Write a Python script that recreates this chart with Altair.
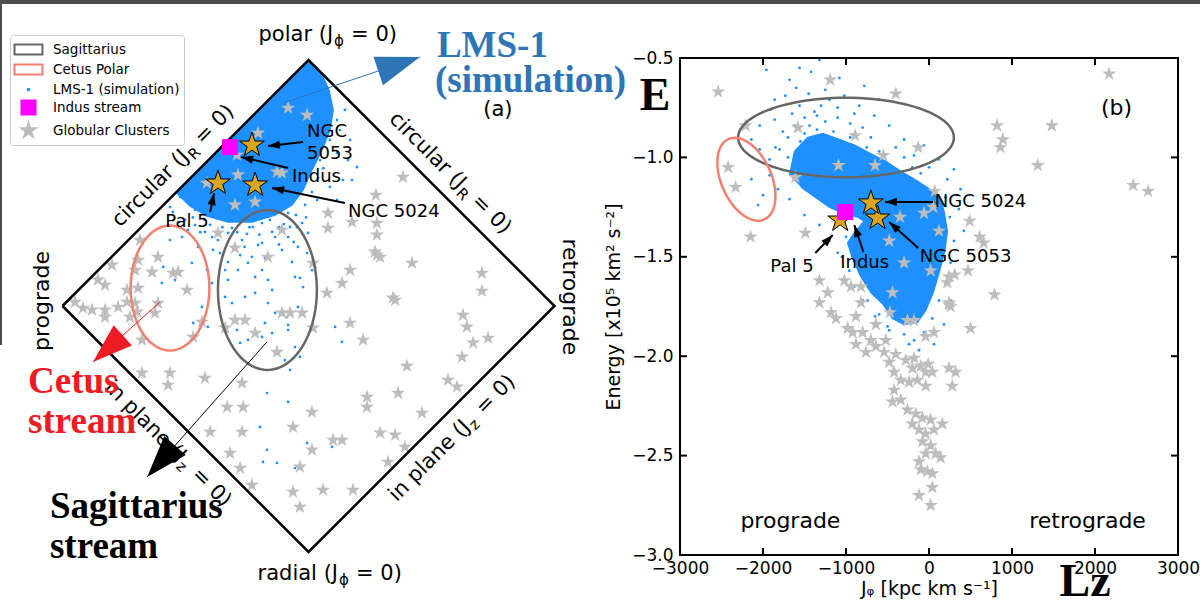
import math
import altair as alt
import pandas as pd

# ------------------------------------------------------------------ style
BLUE = "#1E90FF"
GREY = "#BDBDBD"
GOLD = "#DAA520"
MAGENTA = "#FF00FF"
SGR_COL = "#666666"
CETUS_COL = "#F08070"
ANNOT_BLUE = "#2E75B6"
ANNOT_RED = "#ED1C24"
FONT = "DejaVu Sans"
SERIF = "Liberation Serif"

# ------------------------------------------------------------------ panel (a) data
# action-space diamond: x = Jphi/Jtot, y = (Jz - JR)/Jtot
DIAMOND_X = [-1, 0, 1, 0, -1]
DIAMOND_Y = [0, 1, 0, -1, 0]

# dense core of the LMS-1 simulation cloud (outline)
LMS_A_CORE = [
    (0.0, 1.0), (0.051, 0.947), (0.083, 0.878), (0.100, 0.797), (0.087, 0.715),
    (0.055, 0.634), (0.014, 0.553), (-0.022, 0.472), (-0.067, 0.411), (-0.136, 0.370),
    (-0.230, 0.341), (-0.327, 0.341), (-0.413, 0.366), (-0.482, 0.407), (-0.539, 0.463),
]
# sparse LMS-1 particles around the core
LMS_A_DOTS = [
    (-0.563, 0.402), (-0.551, 0.382), (-0.502, 0.350), (-0.461, 0.329), (-0.514, 0.280),
    (-0.449, 0.240), (-0.591, 0.159), (-0.543, 0.106), (-0.474, 0.175), (-0.413, 0.146),
    (-0.392, 0.093), (-0.360, 0.215), (-0.339, 0.146), (-0.327, 0.106), (-0.287, 0.146),
    (-0.246, 0.175), (-0.217, 0.118), (-0.189, 0.146), (-0.165, 0.106), (-0.148, 0.065),
    (-0.217, 0.053), (-0.258, 0.037), (-0.311, 0.012), (-0.339, 0.037), (-0.165, 0.012),
    (-0.136, -0.028), (-0.177, -0.069), (-0.148, -0.110), (-0.189, -0.126), (-0.246, -0.138),
    (-0.083, -0.098), (-0.055, -0.167), (-0.035, -0.207), (-0.096, -0.220), (-0.136, -0.191),
    (-0.006, 0.215), (0.014, 0.146), (-0.022, 0.077), (-0.043, 0.240), (-0.083, 0.280),
    (-0.108, 0.228), (-0.136, 0.280), (-0.189, 0.256), (-0.270, 0.268), (-0.327, 0.297),
    (-0.392, 0.280), (-0.421, 0.350), (-0.461, 0.390), (-0.189, 0.337), (-0.083, 0.378),
    (-0.026, 0.337), (-0.002, 0.297), (-0.563, 0.268), (-0.596, 0.093), (-0.433, -0.004),
    (-0.469, -0.069), (-0.409, -0.085), (-0.291, -0.098), (-0.278, -0.150), (-0.169, -0.354),
    (-0.083, -0.390), (-0.197, -0.492), (-0.169, -0.585), (-0.128, -0.638), (-0.185, -0.634),
    (-0.035, 0.114), (-0.087, -0.045), (-0.083, -0.077), (0.108, -0.085), (0.136, -0.146),
    (-0.006, -0.557), (0.096, -0.573), (-0.055, -0.659), (-0.047, 0.321), (-0.055, 0.118),
    (-0.043, -0.004), (-0.075, -0.260), (0.075, 0.837), (0.116, 0.756), (0.087, 0.675),
    (0.047, 0.593), (0.116, 0.622), (0.140, 0.512), (0.087, 0.484), (0.035, 0.431),
    (0.116, 0.431), (0.197, 0.565), (0.169, 0.675), (-0.075, 0.321), (-0.157, 0.350),
    (-0.226, 0.321), (-0.429, 0.378), (-0.482, 0.419), (-0.522, 0.443), (0.148, 0.797),
    (0.128, 0.715), (0.177, 0.512), (0.161, 0.593), (-0.421, 0.301), (-0.368, 0.268),
    (-0.311, 0.317), (-0.250, 0.293), (-0.205, 0.248), (-0.148, 0.301), (-0.100, 0.333),
    (-0.051, 0.370), (-0.278, 0.207), (-0.327, 0.179), (-0.388, 0.228), (-0.490, 0.309),
    (-0.530, 0.341), (-0.177, 0.195), (-0.067, 0.179), (-0.014, 0.411), (0.014, 0.463),
    (0.039, 0.520), (-0.240, 0.320), (-0.290, 0.300), (-0.350, 0.320), (-0.400, 0.330),
    (-0.120, 0.320), (-0.060, 0.260), (-0.200, 0.290), (-0.260, 0.240), (-0.440, 0.300),
    (-0.470, 0.360), (-0.230, 0.200), (-0.120, 0.250), (-0.010, 0.360), (0.060, 0.560),
]
# globular clusters
GC_A = [
    (-0.287, 0.533), (-0.108, 0.541), (-0.299, 0.411), (-0.217, 0.423), (-0.368, 0.297),
    (-0.299, 0.236), (-0.108, 0.309), (-0.165, 0.199), (-0.685, 0.268), (-0.612, 0.199),
    (-0.799, 0.167), (-0.705, 0.146), (-0.636, 0.138), (-0.530, 0.138), (-0.856, 0.106),
    (-0.827, 0.085), (-0.738, 0.065), (-0.494, 0.065), (-0.693, 0.073), (-0.949, 0.016),
    (-0.917, -0.008), (-0.880, -0.016), (-0.827, -0.016), (-0.774, -0.004), (-0.738, 0.016),
    (-0.705, 0.012), (-0.612, 0.012), (-0.697, -0.024), (-0.827, -0.045), (-0.726, -0.045),
    (-0.624, -0.028), (-0.677, -0.138), (-0.433, -0.065), (-0.469, -0.126), (-0.299, -0.057),
    (-0.258, -0.057), (-0.217, -0.110), (-0.339, -0.089), (-0.108, -0.028), (-0.075, -0.028),
    (-0.026, -0.028), (-0.128, -0.187), (-0.563, -0.272), (-0.421, -0.293), (-0.270, -0.313),
    (-0.677, -0.272), (-0.693, 0.187), (-0.551, 0.134), (-0.571, -0.321), (-0.331, -0.411),
    (-0.266, -0.411), (-0.400, -0.512), (-0.270, -0.512), (-0.319, -0.598), (-0.278, -0.659),
    (-0.230, -0.728), (-0.063, -0.492), (0.014, -0.431), (0.014, -0.585), (-0.035, -0.654),
    (-0.063, -0.756), (-0.035, -0.817), (0.018, 0.175), (0.169, 0.146), (0.136, 0.093),
    (0.075, 0.053), (0.421, 0.175), (0.352, 0.024), (0.278, 0.207), (0.705, 0.134),
    (0.705, 0.061), (0.628, -0.037), (0.644, -0.085), (0.669, -0.150), (0.730, -0.130),
    (0.624, -0.207), (0.169, -0.069), (0.018, -0.089), (0.222, -0.138), (0.400, -0.244),
    (0.567, -0.301), (0.604, -0.329), (0.364, -0.354), (0.238, -0.370), (0.238, -0.411),
    (0.461, -0.435), (0.291, -0.516), (0.352, -0.524), (0.100, -0.545), (0.136, -0.545),
    (0.392, -0.573), (0.323, -0.634), (0.059, -0.748), (0.181, -0.748), (0.384, 0.524),
    (0.274, 0.451), (0.079, 0.378), (0.177, 0.341), (0.079, 0.317), (0.278, 0.337),
    (0.278, 0.289), (0.270, 0.220), (0.291, 0.199), (0.343, 0.033), (-0.083, 0.805),
    (-0.006, 0.776), (-0.205, 0.703), (-0.291, 0.614), (-0.128, 0.545), (-0.413, 0.500),
]
# named objects
NAMED = ["NGC 5053", "NGC 5024", "Pal 5"]
NAMED_A = [(-0.230, 0.654), (-0.217, 0.492), (-0.368, 0.500)]
INDUS_A = [(-0.319, 0.646)]
# ellipses: centre x, centre y, semi-axis x, semi-axis y, tilt (deg)
SGR_A = (-0.167, 0.065, 0.201, 0.325, 0)
CETUS_A = (-0.563, 0.073, 0.160, 0.254, 0)

# ------------------------------------------------------------------ panel (b) data
LMS_B_CORE = [
    (-1680, -1.09), (-1620, -0.97), (-1460, -0.90), (-1280, -0.88), (-1080, -0.91),
    (-890, -0.94), (-710, -0.98), (-520, -1.02), (-340, -1.07), (-140, -1.12),
    (40, -1.17), (140, -1.21), (180, -1.27), (220, -1.37), (190, -1.47),
    (120, -1.58), (50, -1.68), (-40, -1.77), (-140, -1.83), (-300, -1.84),
    (-440, -1.81), (-550, -1.74), (-700, -1.68), (-820, -1.60), (-920, -1.51),
    (-980, -1.43), (-900, -1.38), (-780, -1.32), (-860, -1.30), (-1040, -1.28),
    (-1200, -1.25), (-1370, -1.20), (-1540, -1.15),
]
LMS_B_DOTS = [
    (-1960, -0.56), (-1680, -0.61), (-1560, -0.55), (-1420, -0.57), (-1250, -0.66),
    (-1730, -0.69), (-1910, -0.76), (-2040, -0.84), (-2140, -0.91), (-1860, -0.81),
    (-1560, -0.74), (-1380, -0.77), (-1200, -0.71), (-1020, -0.69), (-840, -0.74),
    (-660, -0.79), (-480, -0.84), (-300, -0.91), (-180, -0.99), (0, -1.05),
    (220, -1.11), (340, -1.19), (360, -1.26), (300, -1.42), (260, -1.53),
    (200, -1.64), (120, -1.72), (40, -1.81), (-60, -1.88), (-180, -1.92),
    (-300, -1.89), (-600, -1.79), (-740, -1.72), (-960, -1.57), (-1100, -1.48),
    (-1200, -1.42), (-1320, -1.34), (-1500, -1.29), (-1680, -1.21), (-1820, -1.16),
    (-1920, -1.09), (-1800, -0.96), (-1760, -0.87), (-1620, -0.84), (-1440, -0.84),
    (-1920, -1.01), (-2000, -1.19), (-2060, -1.24), (60, -1.94), (-120, -1.97),
    (-240, -1.94), (-480, -1.87), (180, -1.84), (260, -1.72), (320, -1.59),
    (420, -1.37), (380, -1.16), (120, -1.01), (-60, -0.94), (300, -1.06),
    (-600, -0.71), (-780, -0.64), (-1080, -0.60), (-1320, -0.51), (-1860, -0.71),
    (-2040, -0.96), (-2140, -1.11), (-1350, -0.86), (-1150, -0.87), (-950, -0.90),
    (-750, -0.95), (-600, -0.97), (-1500, -0.88), (-1650, -0.78), (-1500, -0.80),
    (-1350, -0.79), (-1250, -0.82), (-1100, -0.80), (-950, -0.83), (-800, -0.85),
    (-700, -0.90), (-1700, -0.90), (-1550, -0.92), (-1400, -0.93), (-1850, -0.95),
    (-1700, -1.00), (-1300, -0.74), (-1450, -0.68), (-1600, -0.65), (-1100, -0.75),
    (-900, -0.78), (-400, -0.95), (-300, -1.00), (-200, -1.05), (-100, -1.08),
    (-1000, -1.40), (-1050, -1.50), (-900, -1.65), (-800, -1.72), (-650, -1.80),
    (-500, -1.85), (100, -1.50), (150, -1.40), (250, -1.30), (200, -1.20),
    (-700, -1.35),
]
GC_B = [
    (-2540, -0.67), (-1190, -0.61), (-400, -0.68), (-2210, -0.84), (-1580, -0.85),
    (-890, -0.89), (-130, -0.95), (-1090, -1.04), (-650, -1.04), (-550, -0.99),
    (-1610, -1.10), (820, -0.84), (1480, -0.84), (890, -0.91), (860, -0.95),
    (1310, -1.04), (2170, -0.58), (2460, -1.14), (2640, -1.17), (-2420, -1.05),
    (-2330, -1.15), (-2150, -1.40), (-1490, -1.38), (70, -1.17), (-60, -1.28),
    (50, -1.25), (490, -1.32), (610, -1.40), (660, -1.43), (120, -1.37),
    (-480, -1.42), (-350, -1.30), (-300, -1.53), (20, -1.57), (310, -1.59),
    (470, -1.57), (790, -1.69), (240, -1.74), (-1320, -1.62), (-1220, -1.68),
    (-1320, -1.73), (-1180, -1.78), (-1120, -1.81), (-1020, -1.62), (-940, -1.65),
    (-820, -1.65), (-820, -1.73), (-880, -1.80), (-640, -1.84), (-980, -1.86),
    (-920, -1.88), (-800, -1.88), (-700, -1.92), (-880, -1.94), (-760, -1.98),
    (-640, -1.95), (-520, -1.92), (-540, -1.98), (-400, -1.99), (-480, -2.03),
    (-280, -2.02), (-180, -2.01), (-200, -2.06), (-100, -2.05), (-40, -2.08),
    (40, -2.08), (-420, -2.08), (-340, -2.12), (-240, -2.13), (-140, -2.12),
    (-40, -2.15), (-420, -2.17), (-340, -2.22), (-440, -2.23), (-260, -2.27),
    (-160, -2.29), (-80, -2.31), (20, -2.32), (160, -2.34), (-200, -2.34),
    (-120, -2.37), (-40, -2.39), (60, -2.37), (-80, -2.43), (20, -2.45),
    (-40, -2.49), (80, -2.49), (140, -2.51), (-120, -2.53), (-20, -2.58),
    (-100, -2.57), (40, -2.59), (40, -2.66), (-120, -2.70), (20, -2.75),
    (240, -1.73), (260, -1.75), (240, -2.06), (320, -2.08), (280, -2.15),
    (500, -1.86), (240, -1.60), (60, -1.88), (-40, -1.90), (-180, -1.82),
    (-260, -1.82), (-10, -2.04), (-440, -1.68), (-470, -1.78), (220, -1.63),
]
NAMED_B = [(-620, -1.305), (-700, -1.229), (-1070, -1.315)]
INDUS_B = [(-1010, -1.275)]
SGR_B = (-1000, -0.90, 1300, 0.20, 0)
CETUS_B = (-2200, -1.11, 530, 0.126, 66)

X_TICKS_B = [-3000, -2000, -1000, 0, 1000, 2000, 3000]
Y_TICKS_B = [-3.0, -2.5, -2.0, -1.5, -1.0, -0.5]
INNER_X_TICKS_B = [-2000, -1000, 0, 1000, 2000]
INNER_Y_TICKS_B = [-2.5, -2.0, -1.5, -1.0]

LEGEND_NAMES = ["Sagittarius", "Cetus Polar", "LMS-1 (simulation)", "Indus stream", "Globular Clusters"]

# ------------------------------------------------------------------ layout
W_A, H_A = 608, 497
XA_DOM = [-1.2378, 1.2337]
YA_DOM = [-1.0122, 1.0081]
KA = W_A / (XA_DOM[1] - XA_DOM[0])
W_B, H_B = 498, 497
XB_DOM = [-3000, 3000]
YB_DOM = [-3.0, -0.5]
KXB = W_B / (XB_DOM[1] - XB_DOM[0])
KYB = H_B / (YB_DOM[1] - YB_DOM[0])


def star_path(r):
    pts = []
    for k in range(10):
        a = math.radians(-90 + 36 * k)
        rr = r if k % 2 == 0 else r * 0.382
        pts.append(f"{rr * math.cos(a):.4f},{rr * math.sin(a):.4f}")
    return "M" + "L".join(pts) + "Z"


STAR = star_path(1.0)
HEAD = "M0,0L0.34,1L-0.34,1Z"


def pts_df(pts):
    return pd.DataFrame([{"x": p[0], "y": p[1], "i": k} for k, p in enumerate(pts)])


def ellipse_df(spec, kx, ky, n=100):
    cx, cy, rx, ry, tilt = spec
    th = math.radians(tilt)
    rows = []
    for k in range(n + 1):
        t = 2 * math.pi * k / n
        px = rx * kx * math.cos(t)
        py = ry * ky * math.sin(t)
        qx = px * math.cos(th) - py * math.sin(th)
        qy = px * math.sin(th) + py * math.cos(th)
        rows.append({"x": cx + qx / kx, "y": cy - qy / ky, "i": k})
    return pd.DataFrame(rows)


def arrows_df(tails, tips, kx, ky):
    rows = []
    for (a, b), (c, d) in zip(tails, tips):
        dxp = (c - a) * kx
        dyp = -(d - b) * ky
        ang = math.degrees(math.atan2(dxp, -dyp)) % 360
        rows.append({"x0": a, "y0": b, "x1": c, "y1": d, "ang": ang})
    return pd.DataFrame(rows)


def xa(f="x"):
    return alt.X(f"{f}:Q", scale=alt.Scale(domain=XA_DOM, nice=False, zero=False), axis=None)


def ya(f="y"):
    return alt.Y(f"{f}:Q", scale=alt.Scale(domain=YA_DOM, nice=False, zero=False), axis=None)


XB_SCALE = alt.Scale(domain=XB_DOM, nice=False, zero=False)
YB_SCALE = alt.Scale(domain=YB_DOM, nice=False, zero=False)
XB_AXIS = alt.Axis(values=X_TICKS_B, format="d", title="Jᵩ [kpc km s⁻¹]", grid=False,
                   ticks=False, domain=False, labelFont=FONT, labelFontSize=17,
                   labelColor="black", labelPadding=5, labelFlush=False,
                   labelOverlap=False, titleFont=FONT, titleFontSize=19,
                   titleFontWeight="normal", titleColor="black", titlePadding=3)
YB_AXIS = alt.Axis(values=Y_TICKS_B, format=".1f", title="Energy [x10⁵ km² s⁻²]", grid=False,
                   ticks=False, domain=False, labelFont=FONT, labelFontSize=17,
                   labelColor="black", labelPadding=7, labelOverlap=False,
                   titleFont=FONT, titleFontSize=19, titleFontWeight="normal",
                   titleColor="black", titlePadding=8)


def xb(f="x"):
    return alt.X(f"{f}:Q", scale=XB_SCALE, axis=XB_AXIS)


def yb(f="y"):
    return alt.Y(f"{f}:Q", scale=YB_SCALE, axis=YB_AXIS)


# ================================================================== panel (a)
diamond = pd.DataFrame({"x": DIAMOND_X, "y": DIAMOND_Y, "i": range(len(DIAMOND_X))})
A = []
A.append(alt.Chart(pts_df(LMS_A_CORE)).mark_line(fill=BLUE, stroke=BLUE, strokeWidth=1.5)
         .encode(x=xa(), y=ya(), order="i:Q"))
A.append(alt.Chart(pts_df(LMS_A_DOTS)).mark_circle(size=8, color=BLUE, opacity=1)
         .encode(x=xa(), y=ya()))
A.append(alt.Chart(pts_df(GC_A)).mark_point(shape=STAR, size=225, filled=True, color=GREY, opacity=1)
         .encode(x=xa(), y=ya()))
A.append(alt.Chart(ellipse_df(SGR_A, KA, KA)).mark_line(color=SGR_COL, strokeWidth=2.5)
         .encode(x=xa(), y=ya(), order="i:Q"))
A.append(alt.Chart(ellipse_df(CETUS_A, KA, KA)).mark_line(color=CETUS_COL, strokeWidth=2.5)
         .encode(x=xa(), y=ya(), order="i:Q"))
A.append(alt.Chart(diamond).mark_line(color="black", strokeWidth=2.5)
         .encode(x=xa(), y=ya(), order="i:Q"))
A.append(alt.Chart(pts_df(NAMED_A)).mark_point(shape=STAR, size=676, filled=True, fill=GOLD,
                                               stroke="black", strokeWidth=1, opacity=1)
         .encode(x=xa(), y=ya()))
A.append(alt.Chart(pts_df(INDUS_A)).mark_square(size=256, color=MAGENTA, opacity=1)
         .encode(x=xa(), y=ya()))

# small labels + arrows
lab_a = pd.DataFrame({
    "x": [-0.006, -0.006, -0.067, 0.161],
    "y": [0.707, 0.618, 0.524, 0.382],
    "t": ["NGC", "5053", "Indus", "NGC 5024"],
})
A.append(alt.Chart(lab_a).mark_text(align="left", baseline="middle", font=FONT, fontSize=18, color="black")
         .encode(x=xa(), y=ya(), text="t:N"))
A.append(alt.Chart(pd.DataFrame({"x": [-0.494], "y": [0.341], "t": ["Pal 5"]}))
         .mark_text(align="center", baseline="middle", font=FONT, fontSize=18, color="black")
         .encode(x=xa(), y=ya(), text="t:N"))
arr_a = arrows_df([(-0.022, 0.667), (-0.083, 0.561), (0.148, 0.419), (-0.400, 0.382)],
                  [(-0.165, 0.650), (-0.274, 0.606), (-0.148, 0.480), (-0.384, 0.459)], KA, KA)
A.append(alt.Chart(arr_a).mark_rule(color="black", strokeWidth=2)
         .encode(x=xa("x0"), y=ya("y0"), x2="x1:Q", y2="y1:Q"))
A.append(alt.Chart(arr_a).mark_point(shape=HEAD, size=576, filled=True, color="black", opacity=1)
         .encode(x=xa("x1"), y=ya("y1"), angle=alt.Angle("ang:Q", scale=None)))

# edge labels of the diamond (pieces so that subscripts can be drawn)
EDGE_LABELS = [
    (0.100, 1.077, 0, "polar (J", "ϕ", "= 0)"),
    (0.120, -1.114, 0, "radial (J", "ϕ", "= 0)"),
    (-0.482, 0.602, 315, "circular (J", "R", "= 0)"),
    (0.608, 0.472, 45, "circular (J", "R", "= 0)"),
    (-0.530, -0.638, 45, "in plane (J", "z", "= 0)"),
    (0.661, -0.496, 315, "in plane (J", "z", "= 0)"),
]
edge = pd.DataFrame([dict(x=e[0], y=e[1], a=e[2], pre=e[3], sub=e[4], post=e[5]) for e in EDGE_LABELS])
A.append(alt.Chart(edge).mark_text(align="right", baseline="alphabetic", font=FONT, fontSize=21, color="black")
         .encode(x=xa(), y=ya(), text="pre:N", angle=alt.Angle("a:Q", scale=None)))
A.append(alt.Chart(edge).mark_text(align="left", baseline="alphabetic", font=FONT, fontSize=15, dx=1, dy=5,
                                   color="black")
         .encode(x=xa(), y=ya(), text="sub:N", angle=alt.Angle("a:Q", scale=None)))
A.append(alt.Chart(edge).mark_text(align="left", baseline="alphabetic", font=FONT, fontSize=21, dx=18,
                                   color="black")
         .encode(x=xa(), y=ya(), text="post:N", angle=alt.Angle("a:Q", scale=None)))
side = pd.DataFrame({"x": [-1.083, 1.063], "y": [0.020, 0.037], "t": ["prograde", "retrograde"], "a": [270, 90]})
A.append(alt.Chart(side).mark_text(align="center", baseline="middle", font=FONT, fontSize=22, color="black")
         .encode(x=xa(), y=ya(), text="t:N", angle=alt.Angle("a:Q", scale=None)))
A.append(alt.Chart(pd.DataFrame({"x": [0.770], "y": [0.795], "t": ["(a)"]}))
         .mark_text(align="center", baseline="middle", font=FONT, fontSize=21, color="black")
         .encode(x=xa(), y=ya(), text="t:N"))

# big annotation arrows and texts
BIG = [
    ((-0.104, 0.825), (0.453, 1.012), ANNOT_BLUE, 7744),
    ((-0.604, 0.016), (-0.876, -0.228), ANNOT_RED, 6400),
    ((-0.169, -0.146), (-0.656, -0.695), "black", 7056),
]
for tail, tip, col, sz in BIG:
    d = arrows_df([tail], [tip], KA, KA)
    A.append(alt.Chart(d).mark_rule(color=col, strokeWidth=1)
             .encode(x=xa("x0"), y=ya("y0"), x2="x1:Q", y2="y1:Q"))
    A.append(alt.Chart(d).mark_point(shape=HEAD, size=sz, filled=True, color=col, opacity=1)
             .encode(x=xa("x1"), y=ya("y1"), angle=alt.Angle("ang:Q", scale=None)))

big_txt = [
    (0.522, 1.012, "LMS-1", ANNOT_BLUE),
    (0.514, 0.870, "(simulation)", ANNOT_BLUE),
    (-1.140, -0.354, "Cetus", ANNOT_RED),
    (-1.140, -0.516, "stream", ANNOT_RED),
    (-1.051, -0.862, "Sagittarius", "black"),
    (-1.051, -1.024, "stream", "black"),
]
for bx, by, bt, bc in big_txt:
    A.append(alt.Chart(pd.DataFrame({"x": [bx], "y": [by], "t": [bt]}))
             .mark_text(align="left", baseline="alphabetic", font=SERIF, fontSize=37, fontWeight="bold", color=bc)
             .encode(x=xa(), y=ya(), text="t:N"))

# legend (scales with explicit domain; no marks drawn)
LEG_SHAPES = ["M-1.51,-0.54H1.51V0.54H-1.51Z", "M-1.51,-0.54H1.51V0.54H-1.51Z",
              "M0.08,0A0.08,0.08 0 1,1 -0.08,0A0.08,0.08 0 1,1 0.08,0Z",
              "M-0.76,-0.76H0.76V0.76H-0.76Z", star_path(0.81)]
LEG_FILLS = ["white", "white", BLUE, MAGENTA, GREY]
LEG_STROKES = [SGR_COL, CETUS_COL, BLUE, MAGENTA, GREY]
leg = dict(title=None, orient="none", legendX=6, legendY=-23, labelFont=FONT, labelFontSize=13.5,
           labelColor="black", symbolSize=342, symbolStrokeWidth=2, symbolOffset=4, labelOffset=14,
           padding=4, rowPadding=0, fillColor="white", strokeColor="#cccccc", cornerRadius=3)
A.append(alt.Chart(pd.DataFrame({"kind": LEGEND_NAMES})).transform_filter("false")
         .mark_point(filled=True, opacity=1)
         .encode(shape=alt.Shape("kind:N", scale=alt.Scale(domain=LEGEND_NAMES, range=LEG_SHAPES), legend=alt.Legend(**leg)),
                 fill=alt.Fill("kind:N", scale=alt.Scale(domain=LEGEND_NAMES, range=LEG_FILLS), legend=alt.Legend(**leg)),
                 stroke=alt.Stroke("kind:N", scale=alt.Scale(domain=LEGEND_NAMES, range=LEG_STROKES), legend=alt.Legend(**leg))))

# page border (dark top bar and left edge)
one = pd.DataFrame({"k": [0]})
A.append(alt.Chart(one).mark_rect(color="#4D4D4D")
         .encode(x=alt.value(-4), x2=alt.value(1196), y=alt.value(-58), y2=alt.value(-54)))
A.append(alt.Chart(one).mark_rect(color="#4D4D4D")
         .encode(x=alt.value(-4), x2=alt.value(-2), y=alt.value(-54), y2=alt.value(287)))

NO_FRAME = alt.ViewBackground(stroke="transparent", strokeWidth=0)
left = alt.layer(*A).properties(width=W_A, height=H_A, view=NO_FRAME)

# ================================================================== panel (b)
B = []
B.append(alt.Chart(pts_df(LMS_B_CORE)).mark_line(fill=BLUE, stroke=BLUE, strokeWidth=1.5)
         .encode(x=xb(), y=yb(), order="i:Q"))
B.append(alt.Chart(pts_df(LMS_B_DOTS)).mark_circle(size=8, color=BLUE, opacity=1)
         .encode(x=xb(), y=yb()))
B.append(alt.Chart(pts_df(GC_B)).mark_point(shape=STAR, size=225, filled=True, color=GREY, opacity=1)
         .encode(x=xb(), y=yb()))
B.append(alt.Chart(ellipse_df(SGR_B, KXB, KYB)).mark_line(color=SGR_COL, strokeWidth=2.5)
         .encode(x=xb(), y=yb(), order="i:Q"))
B.append(alt.Chart(ellipse_df(CETUS_B, KXB, KYB)).mark_line(color=CETUS_COL, strokeWidth=2.5)
         .encode(x=xb(), y=yb(), order="i:Q"))
B.append(alt.Chart(pts_df(NAMED_B)).mark_point(shape=STAR, size=676, filled=True, fill=GOLD,
                                               stroke="black", strokeWidth=1, opacity=1)
         .encode(x=xb(), y=yb()))
B.append(alt.Chart(pts_df(INDUS_B)).mark_square(size=256, color=MAGENTA, opacity=1)
         .encode(x=xb(), y=yb()))
arr_b = arrows_df([(50, -1.224), (-130, -1.456), (-1370, -1.481), (-790, -1.476)],
                  [(-530, -1.224), (-480, -1.325), (-1160, -1.390), (-900, -1.340)], KXB, KYB)
B.append(alt.Chart(arr_b).mark_rule(color="black", strokeWidth=2)
         .encode(x=xb("x0"), y=yb("y0"), x2="x1:Q", y2="y1:Q"))
B.append(alt.Chart(arr_b).mark_point(shape=HEAD, size=576, filled=True, color="black", opacity=1)
         .encode(x=xb("x1"), y=yb("y1"), angle=alt.Angle("ang:Q", scale=None)))
lab_b = pd.DataFrame({"x": [70, -110, -1070], "y": [-1.224, -1.50, -1.53], "t": ["NGC 5024", "NGC 5053", "Indus"]})
B.append(alt.Chart(lab_b).mark_text(align="left", baseline="middle", font=FONT, fontSize=18, color="black")
         .encode(x=xb(), y=yb(), text="t:N"))
B.append(alt.Chart(pd.DataFrame({"x": [-1390], "y": [-1.55], "t": ["Pal 5"]}))
         .mark_text(align="right", baseline="middle", font=FONT, fontSize=18, color="black")
         .encode(x=xb(), y=yb(), text="t:N"))
ann_b = pd.DataFrame({"x": [-1670, 1910, 2260], "y": [-2.83, -2.83, -0.75], "t": ["prograde", "retrograde", "(b)"]})
B.append(alt.Chart(ann_b).mark_text(align="center", baseline="middle", font=FONT, fontSize=22, color="black")
         .encode(x=xb(), y=yb(), text="t:N"))
big_b = pd.DataFrame({"x": [-3300, 1880], "y": [-0.762, -3.205], "t": ["E", "Lz"]})
B.append(alt.Chart(big_b).mark_text(align="center", baseline="alphabetic", font=SERIF, fontSize=46,
                                    fontWeight="bold", color="black")
         .encode(x=xb(), y=yb(), text="t:N"))
# frame and inward ticks
frame = pd.DataFrame({"x": [XB_DOM[0]], "x2": [XB_DOM[1]], "y": [YB_DOM[0]], "y2": [YB_DOM[1]]})
B.append(alt.Chart(frame).mark_rect(fillOpacity=0, stroke="black", strokeWidth=2)
         .encode(x=xb(), x2="x2:Q", y=yb(), y2="y2:Q"))
xt = pd.DataFrame({"x": INNER_X_TICKS_B})
yt = pd.DataFrame({"y": INNER_Y_TICKS_B})
B.append(alt.Chart(xt).mark_rule(color="black", strokeWidth=2)
         .encode(x=xb(), y=alt.value(H_B), y2=alt.value(H_B - 7)))
B.append(alt.Chart(xt).mark_rule(color="black", strokeWidth=2)
         .encode(x=xb(), y=alt.value(0), y2=alt.value(7)))
B.append(alt.Chart(yt).mark_rule(color="black", strokeWidth=2)
         .encode(y=yb(), x=alt.value(0), x2=alt.value(7)))
B.append(alt.Chart(yt).mark_rule(color="black", strokeWidth=2)
         .encode(y=yb(), x=alt.value(W_B), x2=alt.value(W_B - 7)))

right = alt.layer(*B).properties(width=W_B, height=H_B, view=NO_FRAME)

chart = (alt.hconcat(left, right, spacing=68, bounds="flush", padding=0)
         .configure_view(stroke="transparent", strokeWidth=0)
         .configure(font=FONT))

chart.save("out.html", embed_options={"renderer": "svg", "actions": False})
